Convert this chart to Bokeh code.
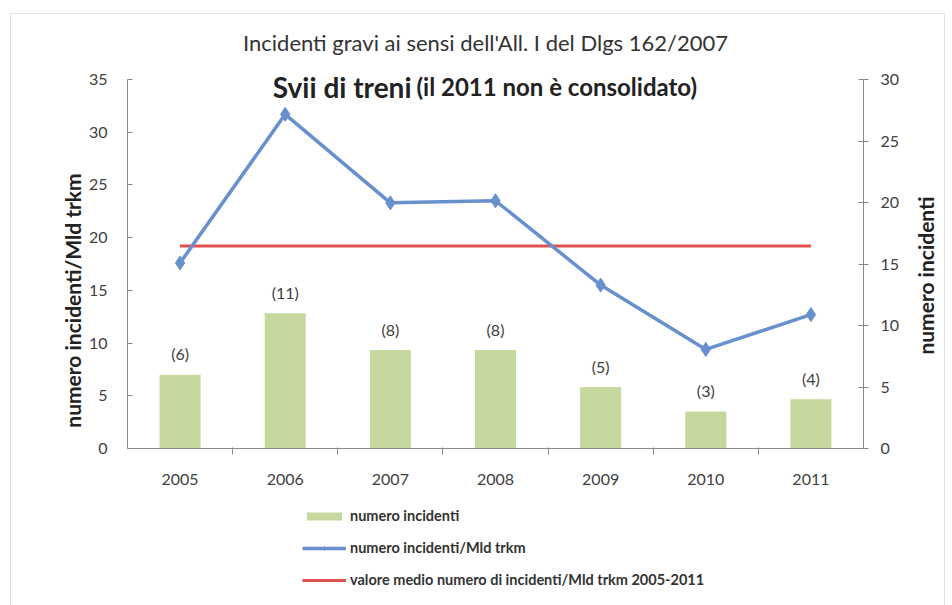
import numpy as np
from bokeh.plotting import figure
from bokeh.models import (Range1d, LinearAxis, FixedTicker, Label, LabelSet,
                          ColumnDataSource, Legend, LegendItem, BoxAnnotation)
from bokeh.core.properties import value
from bokeh.embed import file_html
from bokeh.resources import INLINE

# ---- data ----
years = [2005, 2006, 2007, 2008, 2009, 2010, 2011]
incidents = [6, 11, 8, 8, 5, 3, 4]                      # numero incidenti (right axis)
rate = [17.6, 31.7, 23.3, 23.5, 15.5, 9.4, 12.7]        # numero incidenti/Mld trkm (left axis)
mean_rate = [19.2, 19.2, 19.2, 19.2, 19.2, 19.2, 19.2]  # valore medio 2005-2011
left_ticks = [0, 5, 10, 15, 20, 25, 30, 35]
right_ticks = [0, 5, 10, 15, 20, 25, 30]
incident_labels = ["(6)", "(11)", "(8)", "(8)", "(5)", "(3)", "(4)"]

title1 = "Incidenti gravi ai sensi dell'All. I del Dlgs 162/2007"
title2a = "Svii di treni"
title2b = "(il  2011 non è consolidato)"
left_title = "numero incidenti/Mld trkm"
right_title = "numero incidenti"

# ---- layout (canvas pixels) ----
W, H = 952, 605
PL, PR, PT, PB = 127, 863, 79, 448   # plot area edges

FONT = "Lato"
GREEN = "#c5d89d"
BLUE = "#6790cc"
RED = "#e0504f"
AXIS = "#8a8a8a"
TXT = "#404040"
DARK = "#222222"

xlo, xhi = years[0] - 0.5, years[-1] + 0.5
kx = (xhi - xlo) / (PR - PL)
LMAX, RMAX = left_ticks[-1], right_ticks[-1]
kl = LMAX / (PB - PT)
kr = RMAX / (PB - PT)

p = figure(width=W, height=H, output_backend="svg", toolbar_location=None,
           x_range=Range1d(xlo - PL * kx, xhi + (W - PR) * kx),
           y_range=Range1d(-(H - PB) * kl, LMAX + PT * kl),
           min_border=0)
p.extra_y_ranges = {"right": Range1d(-(H - PB) * kr, RMAX + PT * kr)}
p.grid.visible = False
p.outline_line_color = None
p.background_fill_color = "white"
p.border_fill_color = "white"

# x axis
xa = p.xaxis[0]
xa.fixed_location = 0
xa.bounds = (xlo, xhi)
xa.ticker = FixedTicker(ticks=years, minor_ticks=[y + 0.5 for y in years[:-1]])
xa.major_label_overrides = {y: str(y) for y in years}
xa.major_tick_line_color = None
xa.minor_tick_line_color = AXIS
xa.minor_tick_in = 1
xa.minor_tick_out = 6
xa.axis_line_color = AXIS
xa.major_label_standoff = 19
xa.major_label_text_font = FONT
xa.major_label_text_font_size = "16px"
xa.major_label_text_color = TXT

# left axis
ya = p.yaxis[0]
ya.fixed_location = xlo
ya.bounds = (0, LMAX)
ya.ticker = FixedTicker(ticks=left_ticks)
ya.axis_line_color = AXIS
ya.major_tick_line_color = AXIS
ya.major_tick_in = 5
ya.major_tick_out = 0
ya.minor_tick_line_color = None
ya.major_label_standoff = 20
ya.major_label_text_font = FONT
ya.major_label_text_font_size = "16px"
ya.major_label_text_color = TXT
p.add_layout(Label(x=72, y=H - 300, x_units="screen", y_units="screen",
                   text=left_title, angle=np.pi / 2, text_align="center",
                   text_baseline="middle", text_font=FONT, text_font_style="bold",
                   text_font_size="21px", text_color=DARK))

# right axis
ra = LinearAxis(y_range_name="right", ticker=FixedTicker(ticks=right_ticks),
                fixed_location=xhi, bounds=(0, RMAX))
ra.axis_line_color = AXIS
ra.major_tick_line_color = AXIS
ra.major_tick_in = 5
ra.major_tick_out = 5
ra.minor_tick_line_color = None
ra.major_label_standoff = 12
ra.major_label_text_font = FONT
ra.major_label_text_font_size = "16px"
ra.major_label_text_color = TXT
p.add_layout(ra, "right")
p.add_layout(Label(x=925, y=H - 275, x_units="screen", y_units="screen",
                   text=right_title, angle=np.pi / 2, text_align="center",
                   text_baseline="middle", text_font=FONT, text_font_style="bold",
                   text_font_size="21px", text_color=DARK))

# bars (right axis)
src = ColumnDataSource(dict(x=years, top=incidents, lab=incident_labels))
bars = p.vbar(x="x", top="top", width=0.39, source=src, y_range_name="right",
              fill_color=GREEN, line_color=None)
p.add_layout(LabelSet(x="x", y="top", text="lab", source=src, y_range_name="right",
                      y_offset=21, text_align="center", text_baseline="middle",
                      text_font=value(FONT), text_font_size=value("16px"),
                      text_color=value(TXT)))

# lines (left axis)
mean_line = p.line(years, mean_rate, line_color=RED, line_width=3)
rate_line = p.line(years, rate, line_color=BLUE, line_width=3.5)
rate_pts = p.scatter(years, rate, marker="diamond", size=14, fill_color=BLUE,
                     line_color=BLUE)

# titles
p.add_layout(Label(x=485, y=H - 42, x_units="screen", y_units="screen", text=title1,
                   text_align="center", text_baseline="middle", text_font=FONT,
                   text_font_size="22px", text_color="#333333"))
p.add_layout(Label(x=411, y=H - 86, x_units="screen", y_units="screen", text=title2a,
                   text_align="right", text_baseline="alphabetic", text_font=FONT,
                   text_font_style="bold", text_font_size="28px", text_color=DARK))
p.add_layout(Label(x=416, y=H - 86, x_units="screen", y_units="screen", text=title2b,
                   text_align="left", text_baseline="alphabetic", text_font=FONT,
                   text_font_style="bold", text_font_size="24px", text_color=DARK))

# legend below the plot area
legend = Legend(items=[
    LegendItem(label="numero incidenti", renderers=[bars]),
    LegendItem(label="numero incidenti/Mld trkm", renderers=[rate_line, rate_pts]),
    LegendItem(label="valore medio numero di incidenti/Mld trkm 2005-2011",
               renderers=[mean_line]),
], location=(302, 17), orientation="vertical")
legend.border_line_color = None
legend.background_fill_alpha = 0
legend.padding = 0
legend.margin = 0
legend.glyph_width = 44
legend.glyph_height = 10
legend.label_height = 16
legend.spacing = 15
legend.label_standoff = 4
legend.label_text_font = FONT
legend.label_text_font_style = "bold"
legend.label_text_font_size = "14.5px"
legend.label_text_color = "#333333"
p.add_layout(legend, "center")

# outer chart border
p.add_layout(BoxAnnotation(left=10, right=944, top=H - 13, bottom=-5,
                           left_units="screen", right_units="screen",
                           top_units="screen", bottom_units="screen",
                           fill_alpha=0, line_color="#a0a0a0", line_width=1))

open("out.html", "w").write(file_html(p, INLINE))
